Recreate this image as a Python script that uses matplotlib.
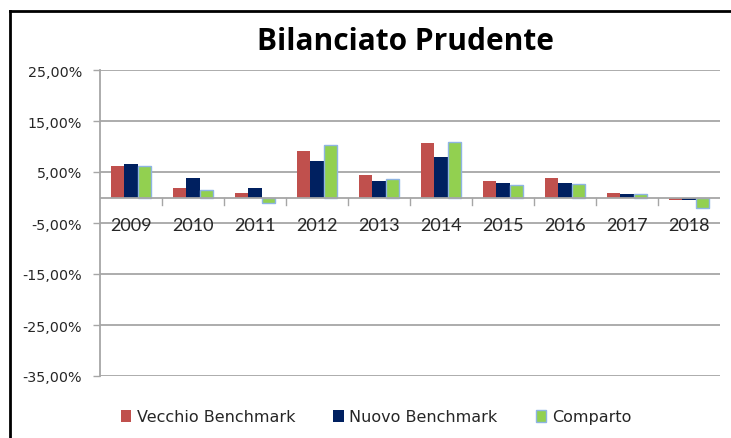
import matplotlib
matplotlib.use("Agg")
import matplotlib.pyplot as plt
import numpy as np
from matplotlib.lines import Line2D
from matplotlib.ticker import FuncFormatter

plt.rcParams['font.family'] = ['DejaVu Sans']

years = ["2009", "2010", "2011", "2012", "2013", "2014", "2015", "2016", "2017", "2018"]
vecchio = [6.1, 1.9, 0.8, 9.2, 4.4, 10.7, 3.2, 3.8, 0.8, -0.4]
nuovo = [6.5, 3.75, 1.9, 7.1, 3.15, 8.0, 2.9, 2.9, 0.75, -0.4]
comparto = [6.2, 1.5, -1.1, 10.3, 3.6, 10.9, 2.45, 2.7, 0.6, -2.1]
yticks = [25, 15, 5, -5, -15, -25, -35]

W, H = 731, 439
fig = plt.figure(figsize=(W / 100, H / 100), dpi=100)
ax = fig.add_axes([100 / W, 1 - 377 / H, 620 / W, 306 / H])

x = np.arange(len(years))
bw = 0.215
ax.bar(x - bw, vecchio, bw, color="#C0504D", zorder=3, label="Vecchio Benchmark")
ax.bar(x, nuovo, bw, color="#002060", zorder=3, label="Nuovo Benchmark")
ax.bar(x + bw, comparto, bw, color="#92D050", edgecolor="#8EB4E3", linewidth=1.0,
       zorder=3, label="Comparto")

ax.set_xlim(-0.5, len(years) - 0.5)
ax.set_ylim(-35, 25)
ax.set_yticks(yticks)
ax.yaxis.set_major_formatter(FuncFormatter(lambda v, p: f"{v:.2f}%".replace(".", ",")))
grid_c = "#A6A6A6"
for v in yticks:
    ax.axhline(v, color=grid_c, lw=1.3, zorder=1)
ax.axhline(0, color=grid_c, lw=1.3, zorder=4)
for s in ["top", "right", "bottom"]:
    ax.spines[s].set_visible(False)
ax.spines["left"].set_color(grid_c)
ax.spines["left"].set_linewidth(1.3)
ax.tick_params(axis="y", length=5, width=1.0, color=grid_c, pad=8, labelsize=10.3,
               labelcolor="#262626")
# category ticks at zero line between categories
ax.set_xticks([])
for b in np.arange(0.5, len(years) - 0.5, 1.0):
    ax.plot([b, b], [0, -1.4], color=grid_c, lw=1.0, zorder=4, clip_on=False)
for i, yr in enumerate(years):
    ax.text(i, -5.3, yr, ha="center", va="center", fontsize=13, color="#262626",
            family=["Lato", "DejaVu Sans"], zorder=5)

fig.text(405 / W, 1 - 42.5 / H, "Bilanciato Prudente", ha="center", va="center",
         fontsize=21.5, fontweight="bold", color="black", family=["Open Sans", "DejaVu Sans"])

handles, labels = ax.get_legend_handles_labels()
fig.legend(handles, labels, loc="center", bbox_to_anchor=(376 / W, 1 - 418 / H), ncol=3,
           frameon=False, fontsize=11.5, handlelength=0.65, handleheight=0.75,
           handletextpad=0.35, columnspacing=2.4, labelcolor="#262626")

# outer chart border
fig.add_artist(Line2D([10 / W, 10 / W], [0, 1 - 12 / H], color="black", lw=2))
fig.add_artist(Line2D([10 / W, 1], [1 - 12 / H, 1 - 12 / H], color="black", lw=2))

fig.savefig("out.png", dpi=100)
